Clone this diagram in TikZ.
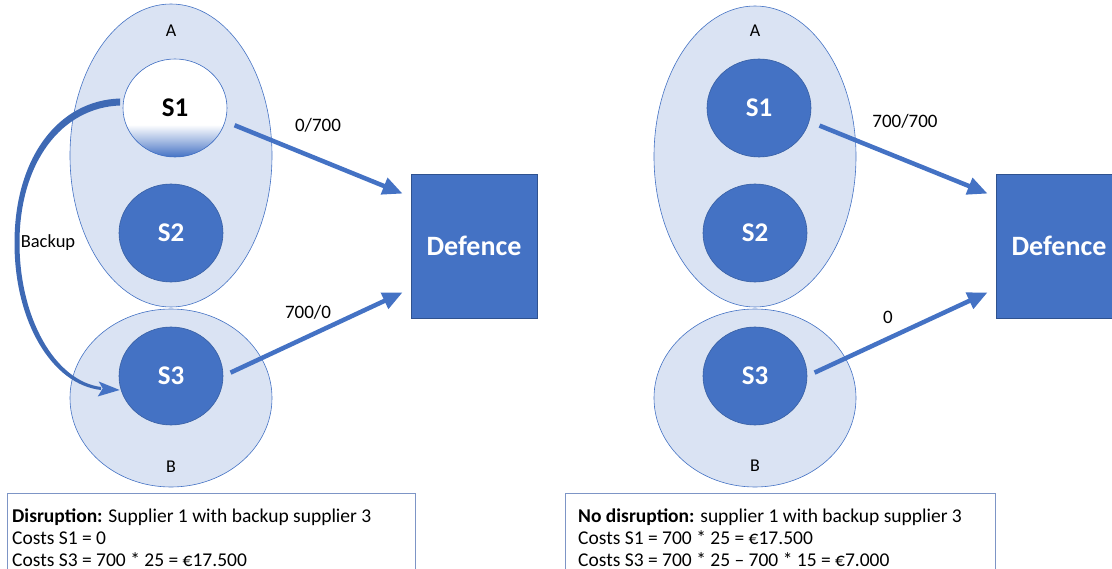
\documentclass[tikz,border=0pt]{standalone}
\usepackage{fontspec}
\setmainfont{Carlito}
\usetikzlibrary{arrows.meta,shapes.geometric,calc}

\definecolor{accent}{HTML}{4472C4}
\definecolor{accentdark}{HTML}{2F528F}
\definecolor{groupfill}{HTML}{DAE3F3}
\definecolor{boxline}{HTML}{7D95C6}

% white supplier fading into blue towards its lower edge
\pgfdeclareverticalshading{sonefade}{100bp}{color(0bp)=(accent); color(25bp)=(accent); color(33bp)=(accent!50!white); color(41.5bp)=(white); color(100bp)=(white)}

\begin{document}
\begin{tikzpicture}[x=1pt,y=-1pt,
  group/.style={ellipse, draw=accent, line width=0.6pt, fill=groupfill, inner sep=0pt},
  supplier/.style={ellipse, draw=accentdark!60!accent, line width=0.6pt, fill=accent,
    minimum width=104pt, minimum height=98pt, inner sep=0pt, text=white,
    font=\fontsize{27}{30}\selectfont\bfseries},
  target/.style={rectangle, draw=accentdark, line width=0.8pt, fill=accent,
    minimum width=126pt, minimum height=144pt, inner sep=0pt, text=white,
    font=\fontsize{28}{32}\selectfont\bfseries},
  flow/.style={draw=accent, line width=4.5pt, -{Triangle[length=20pt,width=17pt]}},
  tag/.style={font=\fontsize{19}{22}\selectfont, inner sep=0pt},
  grouplabel/.style={font=\fontsize{18}{21}\selectfont, inner sep=0pt},
  notebox/.style={draw=boxline, line width=0.9pt, fill=white},
  noteline/.style={font=\fontsize{19.5}{22}\selectfont, inner sep=0pt, anchor=base west}
]
\useasboundingbox (0,0) rectangle (1112,569);
\clip (0,0) rectangle (1112,569);

% ---------------- left: disruption ----------------
\node[group, minimum width=202pt, minimum height=303pt] (gAL) at (171,155.5) {};
\node[group, minimum width=202pt, minimum height=178pt] (gBL) at (171,398) {};
\node[grouplabel] (labAL) at (171,31) {A};
\node[grouplabel] (labBL) at (171,467) {B};

\node[supplier, shading=sonefade, text=black, draw=accent] (s1L) at (175,108) {S1};
\node[supplier] (s2L) at (171,233) {S2};
\node[supplier] (s3L) at (171,376) {S3};

\node[target] (defL) at (474,246) {Defence};

\draw[flow, shorten <=10pt] (s1L.-15) -- ($(defL.north west)+(-8,20)$);
\draw[flow, shorten <=8pt] (s3L.east) -- ($(defL.south west)+(-8,-26)$);
\node[tag] (f1L) at (318,125) {0/700};
\node[tag] (f3L) at (308,312) {700/0};

% backup link from S1 to S3, tapering along its length
\fill[accent!92!black]
  (120,98.5) .. controls (58,100.5) and (14.5,158) .. (14.5,243)
  .. controls (14.5,322) and (52,384.5) .. (101,390)
  -- (101,387)
  .. controls (55,381) and (19.5,318) .. (19.5,243)
  .. controls (19.5,162) and (62,107.5) .. (120,105.5) -- cycle;
\fill[accent] (s3L.west) ++(1,14) coordinate (bktip)
  -- ++(-21,-8.5) -- ++(4,7) -- ++(-5,8) -- cycle;
\node[tag, font=\fontsize{18.5}{21}\selectfont] (bkL) at (48,243) {Backup};

\draw[notebox] (7,493) rectangle (415,590);
\node[noteline] (n1L) at (12,522) {\textbf{Disruption:} Supplier 1 with backup supplier 3};
\node[noteline] (n2L) at (12,544) {Costs S1 = 0};
\node[noteline] (n3L) at (12,566) {Costs S3 = 700 * 25 = €17.500};

% ---------------- right: no disruption ----------------
\node[group, minimum width=202pt, minimum height=301pt] (gAR) at (755,156.5) {};
\node[group, minimum width=202pt, minimum height=178pt] (gBR) at (755,398) {};
\node[grouplabel] (labAR) at (755,31) {A};
\node[grouplabel] (labBR) at (755,466) {B};

\node[supplier] (s1R) at (759,108) {S1};
\node[supplier] (s2R) at (755,233) {S2};
\node[supplier] (s3R) at (755,376) {S3};

\node[target] (defR) at (1059,246) {Defence};

\draw[flow, shorten <=11pt] (s1R.-15) -- ($(defR.north west)+(-8,20)$);
\draw[flow, shorten <=8pt] (s3R.east) -- ($(defR.south west)+(-8,-26)$);
\node[tag] (f1R) at (905,121) {700/700};
\node[tag] (f3R) at (888,317) {0};

\draw[notebox] (565,493) rectangle (995,590);
\node[noteline] (n1R) at (578,522) {\textbf{No disruption:} supplier 1 with backup supplier 3};
\node[noteline] (n2R) at (578,544) {Costs S1 = 700 * 25 = €17.500};
\node[noteline] (n3R) at (578,566) {Costs S3 = 700 * 25 – 700 * 15 = €7.000};
\end{tikzpicture}
\end{document}
